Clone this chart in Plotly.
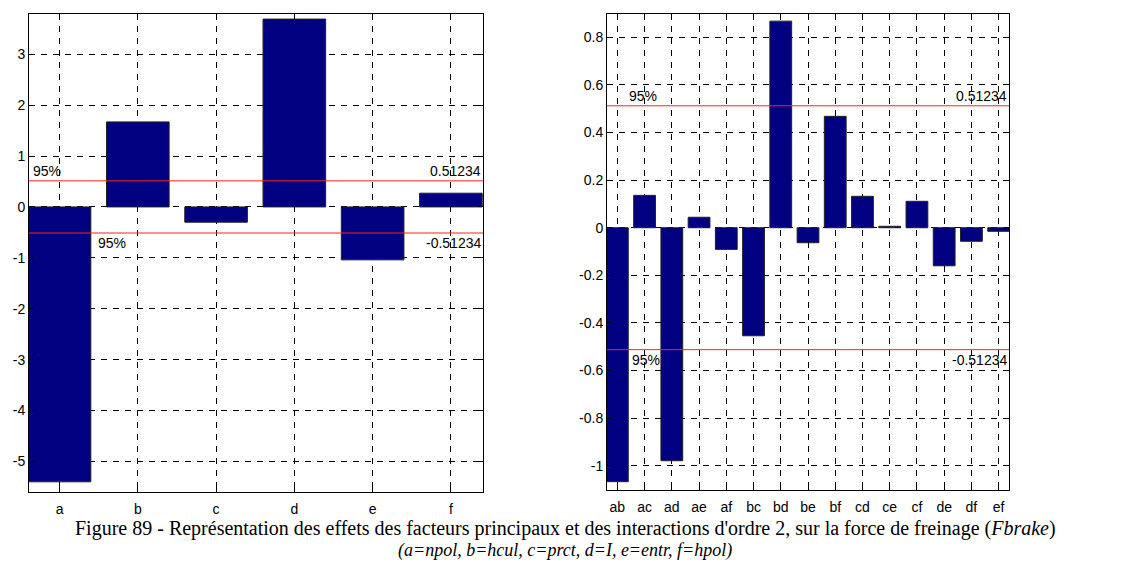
import plotly.graph_objects as go

main_factors = ["a", "b", "c", "d", "e", "f"]
main_effects = [-5.40, 1.67, -0.30, 3.69, -1.04, 0.27]

inter_factors = ["ab", "ac", "ad", "ae", "af", "bc", "bd", "be", "bf", "cd", "ce", "cf", "de", "df", "ef"]
inter_effects = [-1.067, 0.136, -0.979, 0.044, -0.091, -0.454, 0.868, -0.063, 0.468, 0.132, 0.006, 0.111, -0.160, -0.057, -0.015]

threshold = 0.51234
left_yticks = [-5, -4, -3, -2, -1, 0, 1, 2, 3]
right_yticks = [-1, -0.8, -0.6, -0.4, -0.2, 0, 0.2, 0.4, 0.6, 0.8]

OFF = 8  # page body margin
W, H = 1130 - OFF, 567 - OFF

def fx(px):
    return (px - OFF) / W

def fy(py):
    return (H - (py - OFF)) / H

BAR = "#000080"
tickfont = dict(family="Liberation Sans, Arial", size=14, color="black")

fig = go.Figure()
fig.add_trace(go.Bar(x=main_factors, y=main_effects, width=0.8, marker=dict(color=BAR, line=dict(color="#222", width=1)),
                     xaxis="x", yaxis="y", showlegend=False))
fig.add_trace(go.Bar(x=inter_factors, y=inter_effects, width=0.8, marker=dict(color=BAR, line=dict(color="#222", width=1)),
                     xaxis="x2", yaxis="y2", showlegend=False))

def ax(domain, anchor, **kw):
    d = dict(domain=domain, anchor=anchor, showline=True, linecolor="black", linewidth=1, mirror="ticks",
             ticks="inside", ticklen=4, tickcolor="black", showgrid=True, gridcolor="black", gridwidth=1,
             griddash="6px,6px", zeroline=False, tickfont=tickfont, automargin=False)
    d.update(kw)
    return d

fig.update_layout(
    width=W, height=H, margin=dict(l=0, r=0, t=0, b=0, autoexpand=False),
    paper_bgcolor="white", plot_bgcolor="white", bargap=0.2,
    xaxis=ax([fx(29), fx(483)], "y", type="category", range=[-0.39, 5.41], ticklabelstandoff=4),
    yaxis=ax([fy(492), fy(14)], "x", range=[-5.6, 3.79], tickvals=left_yticks,
             ticktext=[str(v) for v in left_yticks]),
    xaxis2=ax([fx(607), fx(1009)], "y2", type="category", range=[-0.38, 14.38], ticklabelstandoff=4),
    yaxis2=ax([fy(490), fy(14)], "x2", range=[-1.102, 0.898], tickvals=right_yticks,
              ticktext=[f"{v:g}" for v in right_yticks]),
)

for xr, yr in [("x", "y"), ("x2", "y2")]:
    for v in (threshold, -threshold):
        fig.add_shape(type="line", xref=f"{xr} domain", yref=yr, x0=0, x1=1, y0=v, y1=v,
                      line=dict(color="#ff2020", width=1), layer="above")

afont = dict(family="Liberation Sans, Arial", size=14, color="black")
# left panel annotations
fig.add_annotation(xref="x domain", yref="y", x=0.004, y=threshold, text="95%", showarrow=False,
                   xanchor="left", yanchor="bottom", font=afont)
fig.add_annotation(xref="x domain", yref="y", x=1.0, y=threshold, text=f"{threshold}", showarrow=False,
                   xanchor="right", yanchor="bottom", font=afont)
fig.add_annotation(xref="x domain", yref="y", x=0.148, y=-threshold, text="95%", showarrow=False,
                   xanchor="left", yanchor="top", font=afont)
fig.add_annotation(xref="x domain", yref="y", x=1.0, y=-threshold, text=f"-{threshold}", showarrow=False,
                   xanchor="right", yanchor="top", font=afont)
# right panel annotations
fig.add_annotation(xref="x2 domain", yref="y2", x=0.05, y=threshold, text="95%", showarrow=False,
                   xanchor="left", yanchor="bottom", font=afont)
fig.add_annotation(xref="x2 domain", yref="y2", x=1.0, y=threshold, text=f"{threshold}", showarrow=False,
                   xanchor="right", yanchor="bottom", font=afont)
fig.add_annotation(xref="x2 domain", yref="y2", x=0.056, y=-threshold, text="95%", showarrow=False,
                   xanchor="left", yanchor="top", font=afont)
fig.add_annotation(xref="x2 domain", yref="y2", x=1.0, y=-threshold, text=f"-{threshold}", showarrow=False,
                   xanchor="right", yanchor="top", font=afont)

cfont1 = dict(family="Liberation Serif, Times New Roman, serif", size=20, color="black")
cfont2 = dict(family="Liberation Serif, Times New Roman, serif", size=18, color="black")
fig.add_annotation(xref="paper", yref="paper", x=fx(565), y=fy(528), yanchor="middle",
                   text="Figure 89 - Représentation des effets des facteurs principaux et des interactions d'ordre 2, sur la force de freinage (<i>Fbrake</i>)",
                   showarrow=False, font=cfont1)
fig.add_annotation(xref="paper", yref="paper", x=fx(565), y=fy(550), yanchor="middle",
                   text="<i>(a=npol, b=hcul, c=prct, d=I, e=entr, f=hpol)</i>",
                   showarrow=False, font=cfont2)

fig.write_html("out.html")
